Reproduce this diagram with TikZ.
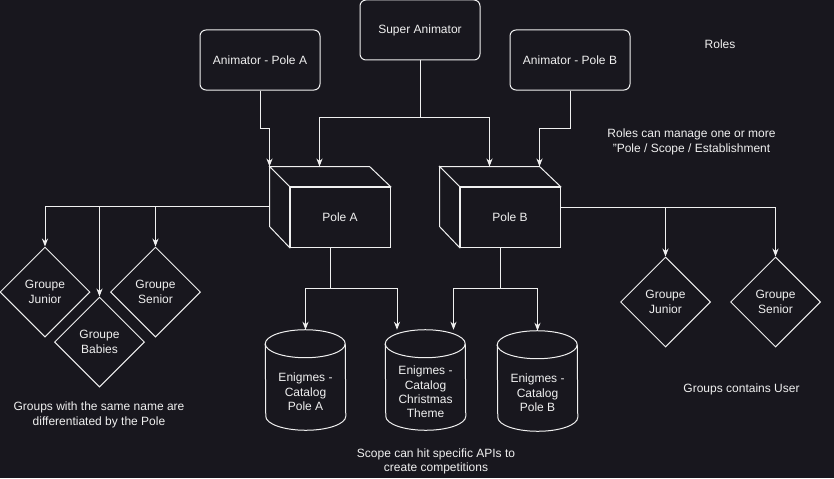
\documentclass[tikz,border=0pt]{standalone}
\usepackage{fontspec}
\setmainfont{Liberation Sans}
\usetikzlibrary{arrows.meta,shapes.geometric,calc}
\definecolor{bg}{RGB}{24,23,30}
\definecolor{fg}{RGB}{240,240,240}
\begin{document}
\begin{tikzpicture}[x=0.75pt,y=-0.75pt,
  line/.style={draw=fg,line width=0.75pt},
  arr/.style={line,-{Stealth[length=6pt,width=4.6pt]}},
  txt/.style={text=fg,font=\fontsize{9}{10.8}\selectfont,align=center,inner sep=0pt},
  role/.style={txt,line,fill=bg,rounded corners=4.5pt,minimum width=90pt,minimum height=45pt},
  face/.style={txt,line,fill=bg,minimum width=75pt,minimum height=45pt},
  grp/.style={txt,line,fill=bg,diamond,aspect=1,minimum width=67.5pt,minimum height=67.5pt},
  cylbox/.style={inner sep=0pt,minimum width=60pt,minimum height=75pt}]
\fill[bg] (0,0) rectangle (834,478);
\useasboundingbox (0,0) rectangle (834,478);

% roles
\node[role] (super) at (420,30) {Super Animator};
\node[role] (animA) at (260,60) {Animator - Pole A};
\node[role] (animB) at (570,60) {Animator - Pole B};

% poles (cubes)
\node[face] (poleA) at (340,217) {Pole A};
\node[face] (poleB) at (510,217) {Pole B};
\foreach \p in {poleA,poleB}{
  \filldraw[line,fill=bg] (\p.north west) -- ++(-20,-20) -- ++(100,0) -- (\p.north east) -- cycle;
  \filldraw[line,fill=bg] (\p.north west) -- ++(-20,-20) -- ++(0,60) -- (\p.south west) -- cycle;
}
\coordinate (pAc) at ($(poleA.north west)+(-20,-20)$);
\coordinate (pBc) at ($(poleB.north west)+(-20,-20)$);
\coordinate (pAin) at ($(pAc)+(50,0)$);
\coordinate (pBin) at ($(pBc)+(50,0)$);
\coordinate (pBin2) at ($(pBc)+(100,0)$);
\coordinate (pAl) at ($(pAc)+(0,40)$);
\coordinate (pBr) at ($(poleB.east)+(0,-10)$);
\coordinate (pAb) at ($(poleA.south)+(-10,0)$);
\coordinate (pBb) at ($(poleB.south)+(-10,0)$);

% groups
\node[grp] (gJA) at (45,292) {Groupe\\Junior};
\node[grp] (gBA) at (99.5,342) {Groupe\\Babies};
\node[grp] (gSA) at (155.5,292) {Groupe\\Senior};
\node[grp] (gJB) at (665.5,302) {Groupe\\Junior};
\node[grp] (gSB) at (775.5,302) {Groupe\\Senior};

% cylinders
\node[cylbox] (cylA) at (305.5,380) {};
\node[cylbox] (cylC) at (425.5,380) {};
\node[cylbox] (cylB) at (537.5,381) {};
\foreach \c in {cylA,cylC,cylB}{
  \filldraw[line,fill=bg] ($(\c.north west)+(0,14)$) arc[start angle=180,end angle=0,x radius=30pt,y radius=10.5pt]
    -- ($(\c.south east)+(0,-14)$) arc[start angle=0,end angle=-180,x radius=30pt,y radius=10.5pt] -- cycle;
  \draw[line] ($(\c.north west)+(0,14)$) arc[start angle=180,end angle=360,x radius=30pt,y radius=10.5pt];
}
\node[txt] (cylAt) at ($(cylA.center)+(0,12)$) {Enigmes -\\Catalog\\Pole A};
\node[txt] (cylCt) at ($(cylC.center)+(0,12)$) {Enigmes -\\Catalog\\Christmas\\Theme};
\node[txt] (cylBt) at ($(cylB.center)+(0,12)$) {Enigmes -\\Catalog\\Pole B};
\coordinate (cCin1) at ($(cylC.north)+(-28.5,0)$);
\coordinate (cCin2) at ($(cylC.north)+(28,0)$);

% notes
\node[txt] (roles) at (720,44.5) {Roles};
\node[txt] (rnote) at (691.5,142) {Roles can manage one or more\\\symbol{34}Pole / Scope / Establishment};
\node[txt] (gnote) at (99,415) {Groups with the same name are\\differentiated by the Pole};
\node[txt] (snote) at (436,461.5) {Scope can hit specific APIs to\\create competitions};
\node[txt] (unote) at (741.5,389) {Groups contains User};

% connectors
\draw[arr] (animA.south) -- ++(0,38) -| (pAc);
\draw[arr] (super.south) -- ++(0,57) -| (pAin);
\draw[arr] (super.south) -- ++(0,57) -| (pBin);
\draw[arr] (animB.south) -- ++(0,38) -| (pBin2);

\draw[arr] (pAl) -| (gJA.north);
\draw[arr] (pAl) -| (gBA.north);
\draw[arr] (pAl) -| (gSA.north);
\draw[arr] (pBr) -| (gJB.north);
\draw[arr] (pBr) -| (gSB.north);

\draw[arr] (pAb) -- ++(0,41) -| (cylA.north);
\draw[arr] (pAb) -- ++(0,41) -| (cCin1);
\draw[arr] (pBb) -- ++(0,41) -| (cCin2);
\draw[arr] (pBb) -- ++(0,41) -| (cylB.north);
\end{tikzpicture}
\end{document}
